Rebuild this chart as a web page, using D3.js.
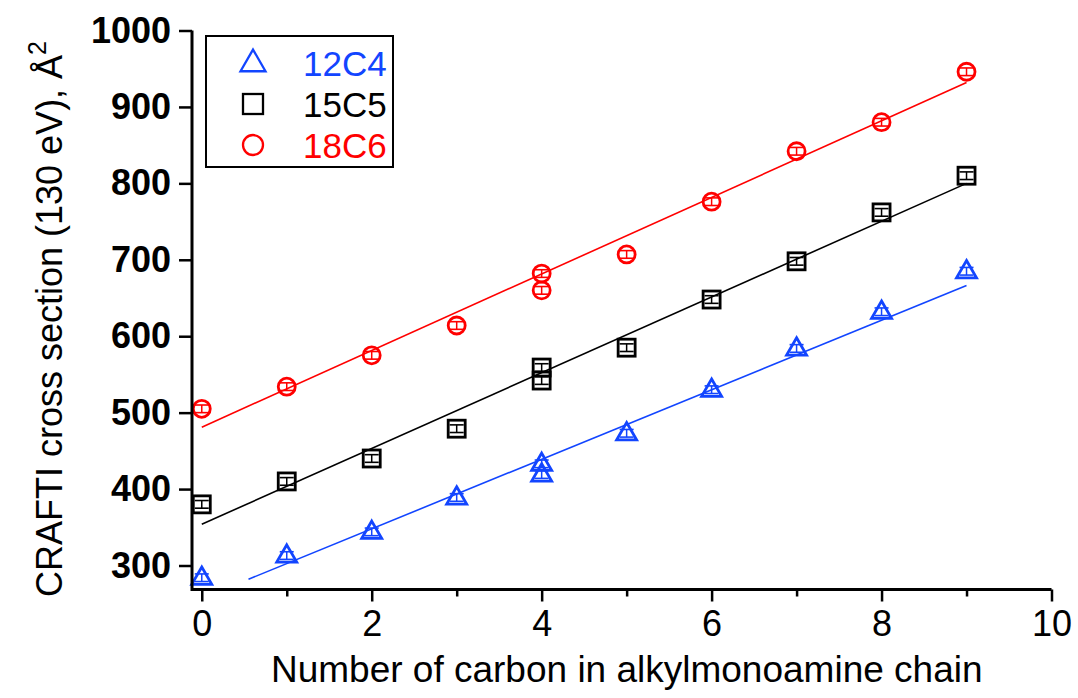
<!DOCTYPE html>
<html><head><meta charset="utf-8">
<script src="https://cdn.jsdelivr.net/npm/d3@7"></script>
<style>body{margin:0;background:#fff;}</style>
</head><body>
<svg id="c" width="1078" height="698"></svg>
<script>
// ---- data ----
const xs12 = [0, 1, 2, 3, 4, 4, 5, 6, 7, 8, 9];
const ys12 = [284, 313, 344, 389, 433, 419, 473, 530, 584, 632, 685];
const xs15 = [0, 1, 2, 3, 4, 4, 5, 6, 7, 8, 9];
const ys15 = [380, 410, 440, 479, 559, 542, 585, 648, 698, 762, 810];
const xs18 = [0, 1, 2, 3, 4, 4, 5, 6, 7, 8, 9];
const ys18 = [505, 534, 575, 614, 682, 660, 707, 776, 842, 880, 946];
const errBar = 5;
// fit lines: [xStart, yStart, xEnd, yEnd]
const fit12 = [0.55, 282, 9, 666.5];
const fit15 = [0, 354, 9, 800];
const fit18 = [0, 481, 9, 932];
const seriesNames = ["12C4", "15C5", "18C6"];
const xTicks = [0, 2, 4, 6, 8, 10];
const xMinorTicks = [1, 3, 5, 7, 9];
const yTicks = [300, 400, 500, 600, 700, 800, 900, 1000];

const colors = {"12C4": "#1245ff", "15C5": "#000000", "18C6": "#ff0000"};
const series = [
  {name: "12C4", xs: xs12, ys: ys12, fit: fit12, shape: "tri"},
  {name: "15C5", xs: xs15, ys: ys15, fit: fit15, shape: "sq"},
  {name: "18C6", xs: xs18, ys: ys18, fit: fit18, shape: "circ"}
];

const svg = d3.select("#c");
const L = 192, R = 1051.5, T = 30.5, B = 589.5;
const x = d3.scaleLinear().domain([-0.115, 10]).range([L, R]);
const y = d3.scaleLinear().domain([268.6, 1000]).range([B, T]);

// fit lines
series.forEach(s => {
  svg.append("line")
    .attr("x1", x(s.fit[0])).attr("y1", y(s.fit[1]))
    .attr("x2", x(s.fit[2])).attr("y2", y(s.fit[3]))
    .attr("stroke", colors[s.name]).attr("stroke-width", 1.6);
});

function drawMarker(g, shape, cx, cy, col, size, sw) {
  if (shape === "tri") {
    const h = size * 0.866;
    g.append("path")
      .attr("d", `M${cx},${cy - h * 0.62}L${cx + size / 2},${cy + h * 0.38}L${cx - size / 2},${cy + h * 0.38}Z`)
      .attr("fill", "none").attr("stroke", col).attr("stroke-width", sw).attr("stroke-linejoin", "miter");
  } else if (shape === "sq") {
    g.append("rect").attr("x", cx - size / 2).attr("y", cy - size / 2)
      .attr("width", size).attr("height", size)
      .attr("fill", "none").attr("stroke", col).attr("stroke-width", sw);
  } else {
    g.append("circle").attr("cx", cx).attr("cy", cy).attr("r", size / 2)
      .attr("fill", "none").attr("stroke", col).attr("stroke-width", sw);
  }
}

// markers with error bars
series.forEach(s => {
  const g = svg.append("g");
  const col = colors[s.name];
  s.xs.forEach((xv, i) => {
    const cx = x(xv), cy = y(s.ys[i]);
    const y1 = y(s.ys[i] + errBar), y2 = y(s.ys[i] - errBar);
    g.append("line").attr("x1", cx).attr("x2", cx).attr("y1", y1).attr("y2", y2)
      .attr("stroke", col).attr("stroke-width", 1.5);
    [y1, y2].forEach(yy => g.append("line").attr("x1", cx - 7).attr("x2", cx + 7)
      .attr("y1", yy).attr("y2", yy).attr("stroke", col).attr("stroke-width", 1.6));
    drawMarker(g, s.shape, cx, cy, col, s.shape === "tri" ? 20 : 17, 2.8);
  });
});

// axes
const xAxis = d3.axisBottom(x).tickValues(xTicks).tickSize(12).tickPadding(9).tickFormat(d3.format("d"));
const gx = svg.append("g").attr("transform", `translate(0,${B})`).call(xAxis);
gx.select(".domain").remove();
gx.append("line").attr("x1", L).attr("x2", R).attr("stroke", "#000").attr("stroke-width", 3);
gx.selectAll(".tick line").attr("stroke-width", 2.5);
gx.selectAll(".tick text").attr("font-family", "'Liberation Sans', Arial, sans-serif")
  .attr("font-size", 36).attr("fill", "#000");
const gxm = svg.append("g").attr("transform", `translate(0,${B})`)
  .call(d3.axisBottom(x).tickValues(xMinorTicks).tickSize(7).tickFormat(""));
gxm.select(".domain").remove();
gxm.selectAll(".tick line").attr("stroke-width", 2.5);

const yAxis = d3.axisLeft(y).tickValues(yTicks).tickSize(13).tickPadding(8).tickFormat(d3.format("d"));
const gy = svg.append("g").attr("transform", `translate(${L},0)`).call(yAxis);
gy.select(".domain").remove();
gy.append("line").attr("y1", T).attr("y2", B + 1.5).attr("stroke", "#000").attr("stroke-width", 3);
gy.selectAll(".tick line").attr("stroke-width", 2.5);
gy.selectAll(".tick text").attr("font-family", "'Liberation Sans', Arial, sans-serif")
  .attr("font-weight", "bold").attr("font-size", 36).attr("fill", "#000");

// axis titles
svg.append("text").attr("x", (L + R) / 2 + 5).attr("y", 682).attr("text-anchor", "middle")
  .attr("font-family", "'Liberation Sans', Arial, sans-serif")
  .attr("font-size", 37).attr("fill", "#000")
  .text("Number of carbon in alkylmonoamine chain");

const yt = svg.append("text").attr("transform", `translate(62,${(T + B) / 2 + 9}) rotate(-90)`)
  .attr("text-anchor", "middle")
  .attr("font-family", "'Liberation Sans', Arial, sans-serif").attr("font-size", 36).attr("fill", "#000");
yt.append("tspan").text("CRAFTI cross section (130 eV), Å");
yt.append("tspan").attr("dy", -16).attr("font-size", 25).text("2");

// legend
const lg = svg.append("g");
lg.append("rect").attr("x", 206).attr("y", 36).attr("width", 187).attr("height", 131)
  .attr("fill", "#fff").attr("stroke", "#000").attr("stroke-width", 2);
seriesNames.forEach((n, i) => {
  const s = series.find(d => d.name === n);
  const cy = 63 + i * 41;
  drawMarker(lg, s.shape, 253, cy, colors[n], s.shape === "tri" ? 25 : 20, 2.3);
  lg.append("text").attr("x", 303).attr("y", cy + 13)
    .attr("font-family", "'Liberation Sans', Arial, sans-serif").attr("font-size", 35)
    .attr("fill", colors[n]).text(n);
});
</script>
</body></html>
